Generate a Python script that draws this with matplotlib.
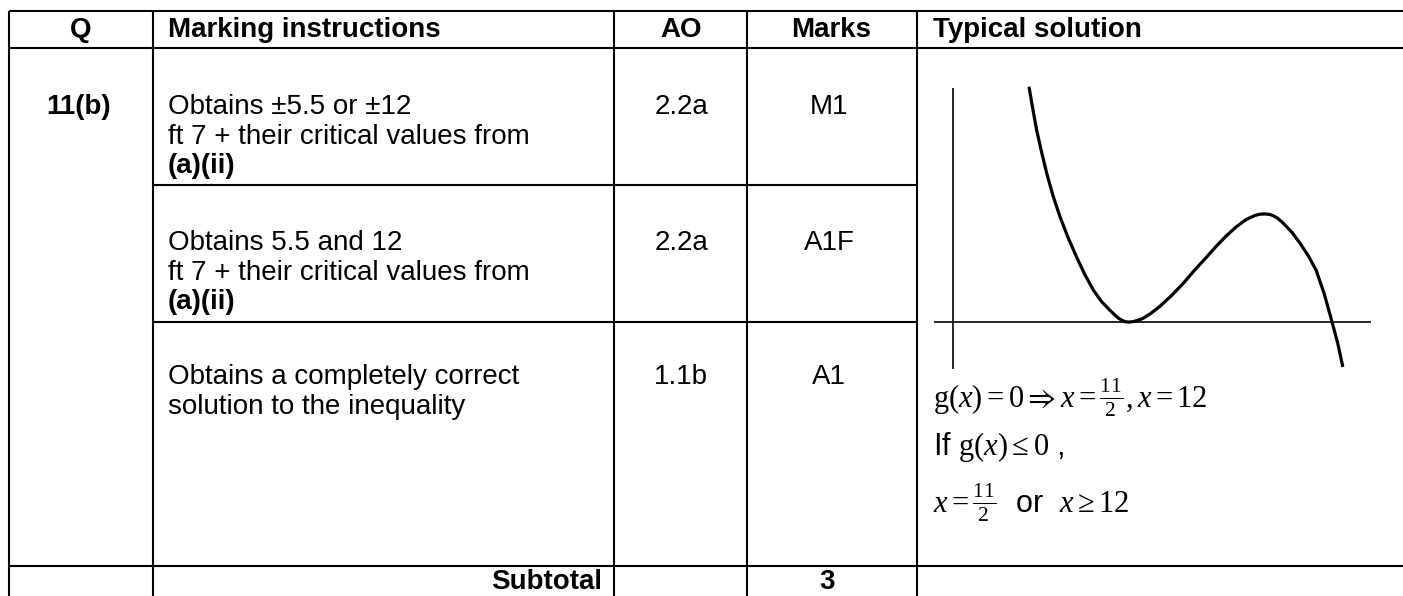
import matplotlib
matplotlib.use("Agg")
import matplotlib.pyplot as plt

plt.rcParams["font.family"] = ["Liberation Sans", "DejaVu Sans"]
plt.rcParams["mathtext.fontset"] = "custom"
plt.rcParams["mathtext.rm"] = "Liberation Serif"
plt.rcParams["mathtext.it"] = "Liberation Serif:italic"
plt.rcParams["mathtext.fallback"] = "stix"

# --- table content ---
headers = ["Q", "Marking instructions", "AO", "Marks", "Typical solution"]
question = "11(b)"
instructions = [
    ["Obtains ±5.5 or ±12", "ft 7 + their critical values from", "(a)(ii)"],
    ["Obtains 5.5 and 12", "ft 7 + their critical values from", "(a)(ii)"],
    ["Obtains a completely correct", "solution to the inequality"],
]
ao_codes = ["2.2a", "2.2a", "1.1b"]
marks = ["M1", "A1F", "A1"]
subtotal_label = "Subtotal"
subtotal_marks = "3"
solution_lines = [
    r"$\mathrm{g}(x) = 0 \Rightarrow x = \frac{11}{2}, x = 12$",
    r"If $\mathrm{g}(x) \leq 0$ ,",
    r"$x = \frac{11}{2}$  or  $x \geq 12$",
]

# sketch of y = g(x) (double root 11/2, root 12)
curve_x = [2.40, 2.52, 2.64, 2.80, 2.96, 3.16, 3.38, 3.63, 3.90, 4.16, 4.43,
           4.68, 4.95, 5.10, 5.22, 5.35, 5.45, 5.57, 5.69, 5.85, 6.00, 6.25,
           6.53, 6.90, 7.27, 7.63, 8.00, 8.32, 8.63, 8.95, 9.26, 9.53, 9.70,
           9.84, 10.00, 10.10, 10.25, 10.42, 10.70, 10.95, 11.22, 11.47,
           11.72, 11.97, 12.15, 12.31]
curve_y = [88.8, 80.4, 72.5, 64.0, 56.1, 47.6, 39.7, 32.0, 24.6, 18.0, 12.1,
           7.9, 4.5, 2.8, 1.5, 0.6, 0.1, 0.0, 0.2, 0.7, 1.4, 3.3,
           5.9, 10.0, 14.6, 19.6, 24.4, 28.7, 32.5, 36.0, 38.7, 40.2, 40.7,
           40.8, 40.6, 40.2, 39.2, 37.4, 33.9, 29.9, 25.0, 19.5,
           10.8, 0.0, -8.0, -16.9]

W, H = 1403, 596
fig = plt.figure(figsize=(W / 100, H / 100), dpi=100)
fig.patch.set_facecolor("white")
ax = fig.add_axes([0, 0, 1, 1])
ax.set_xlim(0, W)
ax.set_ylim(H, 0)
ax.axis("off")

LW = 1.5
col_x = [9, 153, 614, 747, 917]
top, head_bot, sub_top = 11, 48, 566
row_tops = [48, 185, 322]

# grid lines
for y in (top, head_bot, sub_top):
    ax.plot([col_x[0], W + 5], [y, y], color="black", lw=LW, solid_capstyle="butt")
for y in row_tops[1:]:
    ax.plot([col_x[1], col_x[4]], [y, y], color="black", lw=LW, solid_capstyle="butt")
for x in col_x:
    ax.plot([x, x], [top, H + 5], color="black", lw=LW, solid_capstyle="butt")

FS = 20
# header
head_pos = [(81, "center"), (168, "left"), (681, "center"), (831, "center"), (933, "left")]
for (x, ha), lab in zip(head_pos, headers):
    ax.text(x, 37, lab, ha=ha, va="baseline", fontsize=FS, fontweight="bold")

# rows
row_base = [114, 250, 384]
gap = 29.5
ax.text(79, row_base[0], question, ha="center", va="baseline", fontsize=FS, fontweight="bold")
for base, lines, ao, mk in zip(row_base, instructions, ao_codes, marks):
    for i, line in enumerate(lines):
        w = "bold" if line.startswith("(a)") else "normal"
        ax.text(168, base + i * gap, line, ha="left", va="baseline", fontsize=FS, fontweight=w)
    ax.text(681, base, ao, ha="center", va="baseline", fontsize=FS)
    ax.text(829, base, mk, ha="center", va="baseline", fontsize=FS)

# subtotal row
ax.text(602, 589, subtotal_label, ha="right", va="baseline", fontsize=FS, fontweight="bold")
ax.text(827, 589, subtotal_marks, ha="center", va="baseline", fontsize=FS, fontweight="bold")

# typical solution text
for yb, line in zip([408, 455, 513], solution_lines):
    ax.text(933, yb, line, ha="left", va="baseline", fontsize=22)

# sketch
sk = fig.add_axes([934 / W, (H - 369) / H, 437 / W, 281 / H])
sk.set_xlim(-0.6, 13.2)
sk.set_ylim(-17.7, 88.3)
sk.axis("off")
sk.axhline(0, color="black", lw=1.2)
sk.axvline(0, color="black", lw=1.2)
sk.plot(curve_x, curve_y, color="black", lw=2.3, clip_on=False,
        solid_capstyle="butt", solid_joinstyle="round")

fig.savefig("out.png", dpi=100, facecolor="white")
